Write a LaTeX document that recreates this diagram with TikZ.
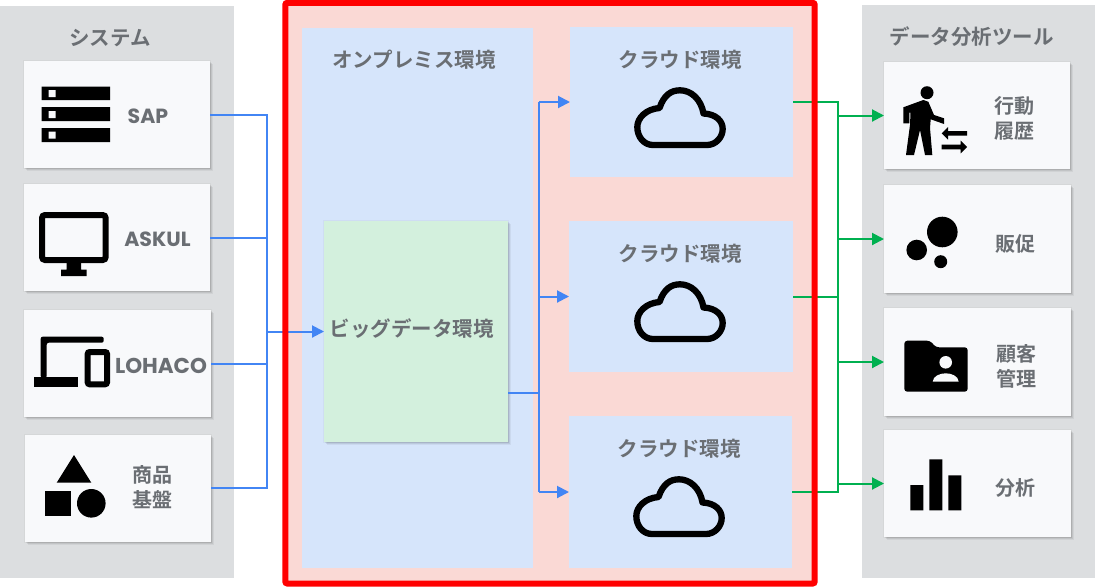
\documentclass[tikz,border=0pt]{standalone}
\usepackage{fontspec}
\usetikzlibrary{arrows.meta,shadows}
\newfontfamily\cjk{Noto Sans CJK JP Bold}
\newfontfamily\lat{Poppins}[BoldFont=* Bold]
\definecolor{panel}{HTML}{DCDEE0}
\definecolor{cardc}{HTML}{F8F9FB}
\definecolor{bluec}{HTML}{D6E5FB}
\definecolor{greenc}{HTML}{D3F0DD}
\definecolor{pinkc}{HTML}{FAD9D5}
\definecolor{linkb}{HTML}{4285F4}
\definecolor{linkg}{HTML}{00B050}
\definecolor{txt}{HTML}{6A6E73}
\tikzset{
 softshadow/.style={
  general shadow={fill=black,opacity=.05,shadow xshift=0pt,shadow yshift=0pt,draw=black,line width=2pt,draw opacity=.03},
  general shadow={fill=black,opacity=.07,shadow xshift=1pt,shadow yshift=-1pt},
  general shadow={fill=black,opacity=.07,shadow xshift=2pt,shadow yshift=-2pt},
  general shadow={fill=black,opacity=.05,shadow xshift=3pt,shadow yshift=-3pt}},
 area/.style={inner sep=0pt,outer sep=0pt,draw=none},
 cardbox/.style={area,fill=cardc,softshadow,minimum width=186pt,minimum height=107pt},
 cloudbox/.style={area,fill=bluec,minimum width=223pt},
 head/.style={font=\cjk\fontsize{20.5}{25}\selectfont,text=txt,inner sep=0pt,align=center,yshift=-1pt},
 label/.style={font=\cjk\fontsize{20}{25}\selectfont,text=txt,inner sep=0pt,align=center,yshift=-0.7pt},
 latin/.style={font=\lat\bfseries\fontsize{20.5}{24}\selectfont,text=txt,inner sep=0pt},
 bline/.style={draw=linkb,line width=2pt},
 gline/.style={draw=linkg,line width=2pt},
 barrow/.style={bline,-{Triangle[length=12pt,width=12pt]}},
 garrow/.style={gline,-{Triangle[length=12pt,width=12pt]}},
 cloudicon/.pic={\draw[black,line width=6.3pt,line join=round]
   (653,145) -- (707,145) .. controls (716,145) and (722.7,137) .. (722.7,129)
   .. controls (722.7,121) and (716,114) .. (703.5,113.5)
   .. controls (701,99) and (691,90.3) .. (680,90.3)
   .. controls (671,90.3) and (664,95) .. (659.5,108)
   .. controls (646,109) and (637.3,118) .. (637.3,127)
   .. controls (637.3,137) and (644,145) .. (653,145) -- cycle;}
}
\begin{document}
\begin{tikzpicture}[x=1pt,y=-1pt]
\useasboundingbox (0,0) rectangle (1108,587);
\fill[white] (0,0) rectangle (1108,587);
% panels
\node[area,fill=panel,minimum width=234pt,minimum height=572pt] (leftpanel) at (117,292) {};
\node[area,fill=panel,minimum width=233pt,minimum height=573pt] (rightpanel) at (978.5,291.5) {};
\node[area,fill=pinkc,minimum width=529.4pt,minimum height=580.7pt] (envarea) at (550,293.15) {};
\node[area,fill=bluec,minimum width=231pt,minimum height=540pt] (onprem) at (417.5,298) {};
\node[area,fill=greenc,softshadow,minimum width=184pt,minimum height=221pt] (big) at (416,331.5) {};
\node[cloudbox,minimum height=150pt] (c1) at (681.5,102) {};
\node[cloudbox,minimum width=224pt,minimum height=151pt] (c2) at (681,296.5) {};
\node[cloudbox,minimum height=152pt] (c3) at (680.5,492) {};
% cards
\node[cardbox] (sap) at (117,114.5) {};
\node[cardbox] (askul) at (117,237.5) {};
\node[cardbox,minimum width=187pt] (lohaco) at (117.5,363.5) {};
\node[cardbox] (goods) at (118,488) {};
\node[cardbox] (t1) at (977,115.5) {};
\node[cardbox,minimum width=187pt,minimum height=108pt] (t2) at (977.5,239) {};
\node[cardbox,minimum width=187pt,minimum height=108pt] (t3) at (977.5,362) {};
\node[cardbox,minimum width=187pt] (t4) at (977.5,483.5) {};
% connectors
\coordinate (bl) at (267,488);
\coordinate (bm) at (539,393);
\coordinate (gb) at (838,492);
\coordinate (bigout) at (508,393);
\draw[bline] (sap.east) -| (bl) -- (goods.east);
\draw[bline] (askul.east) -- (askul.east -| bl);
\draw[bline] (lohaco.east) -- (lohaco.east -| bl);
\draw[barrow] (big.west -| bl) -- (big.west);
\draw[bline] (bigout) -- (bm);
\draw[bline] (c1.west -| bm) -- (c3.west -| bm);
\draw[barrow] (c1.west -| bm) -- (c1.west);
\draw[barrow] (c2.west -| bm) -- (c2.west);
\draw[barrow] (c3.west -| bm) -- (c3.west);
\draw[gline] (c1.east) -| (gb) -- (c3.east);
\draw[gline] (c2.east) -- (c2.east -| gb);
\draw[garrow] (t1.west -| gb) -- (t1.west);
\draw[garrow] (t2.west -| gb) -- (t2.west);
\draw[garrow] (t3.west -| gb) -- (t3.west);
\draw[garrow] (t4.west -| gb) -- (t4.west);
% red frame
\draw[red,line width=6pt,rounded corners=2pt] (envarea.north west) rectangle (envarea.south east);
% titles and labels
\node[head] (tsys) at (110,37) {システム};
\node[head] (ttool) at (971.5,36) {データ分析ツール};
\node[head] (tonp) at (414,59) {オンプレミス環境};
\node[head] (tbig) at (411.5,328) {ビッグデータ環境};
\node[head] (tc1) at (680,59) {クラウド環境};
\node[head] (tc2) at (680,253) {クラウド環境};
\node[head] (tc3) at (679,448) {クラウド環境};
\node[latin] (lsap) at (148,116.5) {SAP};
\node[latin] (laskul) at (157.5,239.5) {ASKUL};
\node[latin,font=\lat\bfseries\fontsize{21.5}{24}\selectfont] (lloh) at (161,365.5) {LOHACO};
\node[label] (lgoods) at (152,486.5) {商品\\基盤};
\node[label] (lt1) at (1014,117.5) {行動\\履歴};
\node[label] (lt2) at (1015,243.5) {販促};
\node[label] (lt3) at (1016,365.5) {顧客\\管理};
\node[label] (lt4) at (1015,487.5) {分析};
% server icon
\fill[black] (41.7,86.7) rectangle (110,100) (41.7,107) rectangle (110,121) (41.7,128) rectangle (110,142);
\fill[cardc] (48.7,90) rectangle (55.7,97) (48.7,111) rectangle (55.7,118) (48.7,131.7) rectangle (55.7,138.7);
% monitor icon
\draw[black,line width=6pt,rounded corners=3pt] (42,215) rectangle (105.7,260);
\fill[black] (66.7,262) rectangle (81,270) (61,269.5) rectangle (86.7,276);
% devices icon
\fill[black,rounded corners=2pt] (103.7,336.7) -- (40.7,336.7) -- (40.7,378) -- (46.7,378) -- (46.7,342.7) -- (103.7,342.7) -- cycle;
\fill[black] (34,377.3) rectangle (78.3,387.3);
\draw[black,line width=6pt,rounded corners=2pt] (87.7,352) rectangle (107,384.3);
% shapes icon
\fill[black] (74,455) -- (91.3,482.7) -- (56.7,482.7) -- cycle;
\fill[black] (45.3,490.7) rectangle (71,516);
\fill[black] (91.3,503.3) circle[radius=14.3];
% walker icon
\fill[black] (927,92.7) circle[radius=6.5];
\fill[black,line join=round] (903.3,107.3) -- (923.3,100) -- (928.3,101.7) -- (934,115) -- (944,118.3) -- (944,124) -- (930.7,119.3) -- (930,128) -- (932.3,155) -- (925,155) -- (920,130) -- (914,155) -- (906,155) -- (910,125) -- (910.5,112.5) -- (909.3,112.5) -- (909.3,123.3) -- (903.3,123.3) -- cycle;
\fill[black] (967,131) -- (948,131) -- (948,127) -- (941.7,133.3) -- (948,139.7) -- (948,135.7) -- (967,135.7) -- cycle;
\fill[black] (941.7,144.7) -- (960.7,144.7) -- (960.7,140.7) -- (967,147) -- (960.7,153.4) -- (960.7,149.4) -- (941.7,149.4) -- cycle;
% bubbles icon
\fill[black] (942.3,232) circle[radius=15.3];
\fill[black] (916.7,250) circle[radius=10.3];
\fill[black] (940.7,261.7) circle[radius=6.5];
% folder icon
\fill[black,rounded corners=3pt] (904.3,340.7) -- (930,340.7) -- (936,347.3) -- (967.7,347.3) -- (967.7,391.7) -- (904.3,391.7) -- cycle;
\fill[cardc] (945.7,362.3) circle[radius=6.3];
\fill[cardc] (932.7,381.7) .. controls (933,376) and (940,373.3) .. (945.7,373.3) .. controls (951.4,373.3) and (958.4,376) .. (958.7,381.7) -- cycle;
% bars icon
\fill[black] (910.3,485) rectangle (923.3,510.3) (929.3,459.3) rectangle (942.3,510.3) (948.3,475.3) rectangle (961.3,510.3);
% clouds
\pic at (0,0) {cloudicon};
\pic at (0,194) {cloudicon};
\pic at (-1,389) {cloudicon};
\end{tikzpicture}
\end{document}
